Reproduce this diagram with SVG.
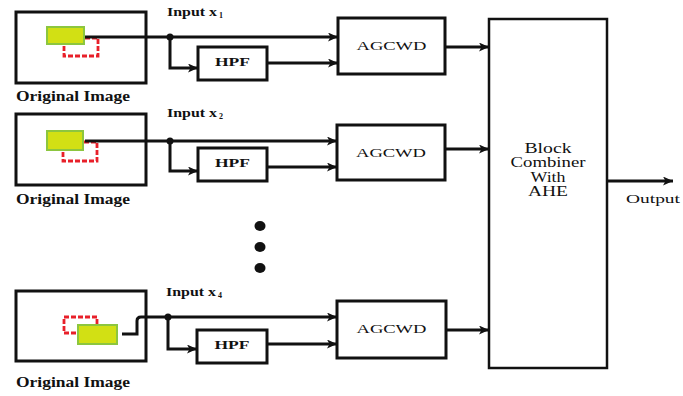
<svg xmlns="http://www.w3.org/2000/svg" width="683" height="396" viewBox="0 0 683 396">
<defs>
<style>
.box{fill:#fff;stroke:#111;stroke-width:3}
.img{fill:#fff;stroke:#111;stroke-width:3}
.grn{fill:#d2e014;stroke:#8cc63f;stroke-width:2}
.red{fill:none;stroke:#e8202a;stroke-width:2.8;stroke-dasharray:5 2}
.ln{fill:none;stroke:#111;stroke-width:3}
text{font-family:"Liberation Serif","DejaVu Serif","Times New Roman",serif;fill:#111}
.b{font-weight:bold}
</style>
<marker id="ah" markerUnits="userSpaceOnUse" markerWidth="10" markerHeight="9" refX="10" refY="4.5" orient="auto">
<path d="M0,0 L10,4.5 L0,9 L2.5,4.5 Z" fill="#111"/>
</marker>
</defs>
<rect width="683" height="396" fill="#fff"/>

<g id="img1">
<rect class="img" x="16" y="12" width="130" height="71"/>
<rect class="red" x="64" y="38" width="34" height="18"/>
<rect class="grn" x="47" y="27" width="37" height="17"/>
<text class="b" x="16" y="101" font-size="14" textLength="114" lengthAdjust="spacingAndGlyphs">Original Image</text>
</g>
<g id="img2">
<rect class="img" x="16" y="114" width="130" height="71"/>
<rect class="red" x="63" y="142" width="34" height="19"/>
<rect class="grn" x="47" y="131" width="36" height="19"/>
<text class="b" x="16" y="204" font-size="14" textLength="114" lengthAdjust="spacingAndGlyphs">Original Image</text>
</g>
<g id="img3">
<rect class="img" x="16" y="291" width="130" height="70"/>
<rect class="red" x="64" y="317" width="33" height="16"/>
<rect class="grn" x="78" y="325" width="39" height="19"/>
<text class="b" x="16" y="387" font-size="14" textLength="114" lengthAdjust="spacingAndGlyphs">Original Image</text>
</g>

<g id="labels">
<text class="b" x="167" y="16" font-size="13" textLength="50" lengthAdjust="spacingAndGlyphs">Input x</text>
<text class="b" x="219" y="18" font-size="8">1</text>
<text class="b" x="167" y="117" font-size="13" textLength="50" lengthAdjust="spacingAndGlyphs">Input x</text>
<text class="b" x="219" y="119" font-size="8">2</text>
<text class="b" x="166" y="296" font-size="13" textLength="50" lengthAdjust="spacingAndGlyphs">Input x</text>
<text class="b" x="218" y="298" font-size="8">4</text>
</g>

<g id="hpf1">
<rect class="box" x="198" y="47" width="69" height="33"/>
<text class="b" x="232.5" y="66" font-size="13" text-anchor="middle" textLength="35" lengthAdjust="spacingAndGlyphs">HPF</text>
</g>
<g id="hpf2">
<rect class="box" x="198" y="148" width="69" height="33"/>
<text class="b" x="232.5" y="167" font-size="13" text-anchor="middle" textLength="35" lengthAdjust="spacingAndGlyphs">HPF</text>
</g>
<g id="hpf3">
<rect class="box" x="197" y="330" width="70" height="33"/>
<text class="b" x="232" y="349" font-size="13" text-anchor="middle" textLength="35" lengthAdjust="spacingAndGlyphs">HPF</text>
</g>

<g id="agcwd1">
<rect class="box" x="338" y="18" width="107" height="56"/>
<text x="391.5" y="50" font-size="13" text-anchor="middle" textLength="70" lengthAdjust="spacingAndGlyphs">AGCWD</text>
</g>
<g id="agcwd2">
<rect class="box" x="337" y="125" width="108" height="55"/>
<text x="391" y="157" font-size="13" text-anchor="middle" textLength="70" lengthAdjust="spacingAndGlyphs">AGCWD</text>
</g>
<g id="agcwd3">
<rect class="box" x="337" y="301" width="109" height="57"/>
<text x="391.5" y="333" font-size="13" text-anchor="middle" textLength="70" lengthAdjust="spacingAndGlyphs">AGCWD</text>
</g>

<g id="combiner">
<rect class="box" x="489" y="19" width="118" height="349" style="stroke-width:2.5"/>
<text x="548" y="153" font-size="14" text-anchor="middle" textLength="47" lengthAdjust="spacingAndGlyphs">Block</text>
<text x="548" y="167" font-size="14" text-anchor="middle" textLength="75" lengthAdjust="spacingAndGlyphs">Combiner</text>
<text x="548" y="182" font-size="14" text-anchor="middle" textLength="35" lengthAdjust="spacingAndGlyphs">With</text>
<text x="548" y="196" font-size="14" text-anchor="middle" textLength="40" lengthAdjust="spacingAndGlyphs">AHE</text>
</g>

<g id="output-label">
<text x="626" y="203" font-size="13" textLength="54" lengthAdjust="spacingAndGlyphs">Output</text>
</g>

<g id="ellipsis" fill="#111">
<ellipse cx="260" cy="226" rx="5.5" ry="5"/>
<ellipse cx="260" cy="247" rx="5.5" ry="5"/>
<ellipse cx="260" cy="268" rx="5.5" ry="5"/>
</g>

<g id="connectors">
<path class="ln" d="M85,37 H338" marker-end="url(#ah)"/>
<circle cx="170" cy="37" r="3.5" fill="#111"/>
<path class="ln" d="M170,37 V68 H198" marker-end="url(#ah)"/>
<path class="ln" d="M267,63 H338" marker-end="url(#ah)"/>
<path class="ln" d="M445,47 H489" marker-end="url(#ah)"/>
<path class="ln" d="M85,141 H337" marker-end="url(#ah)"/>
<circle cx="170" cy="141" r="3.5" fill="#111"/>
<path class="ln" d="M170,141 V171 H198" marker-end="url(#ah)"/>
<path class="ln" d="M267,167 H337" marker-end="url(#ah)"/>
<path class="ln" d="M445,149 H489" marker-end="url(#ah)"/>
<path class="ln" d="M122,334 H137 V321 Q137,317 141,317 H337" marker-end="url(#ah)"/>
<circle cx="168" cy="317" r="3.5" fill="#111"/>
<path class="ln" d="M168,317 V349 H197" marker-end="url(#ah)"/>
<path class="ln" d="M267,344 H337" marker-end="url(#ah)"/>
<path class="ln" d="M446,330 H489" marker-end="url(#ah)"/>
<path class="ln" d="M607,181 H673" marker-end="url(#ah)"/>
</g>
</svg>
